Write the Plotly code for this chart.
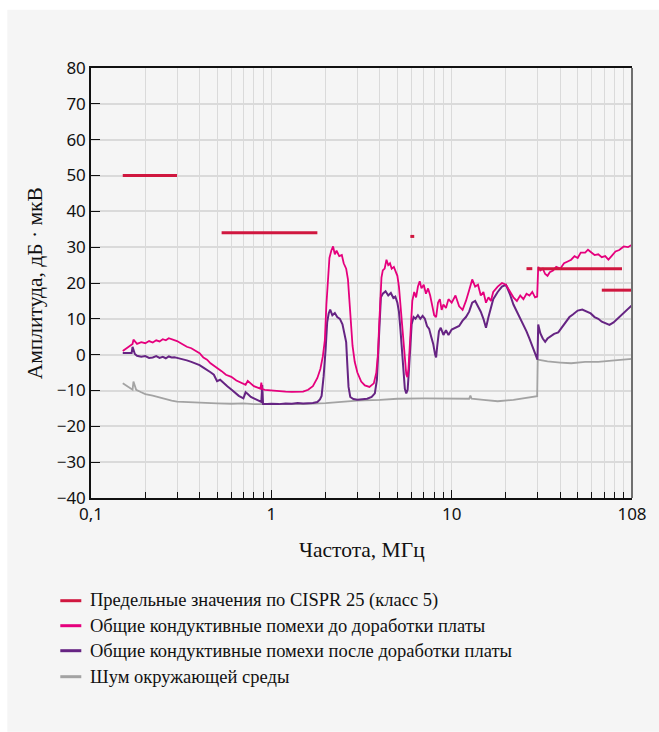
import plotly.graph_objects as go

# ---------------- data (MHz, dBµV) ----------------
limit_freq = [0.15, 0.30, None, 0.53, 1.8, None, 5.9, 6.2, None, 26, 28, None, 30, 88, None, 68, 100]
limit_amp = [50, 50, None, 34, 34, None, 33, 33, None, 24, 24, None, 24, 24, None, 18, 18]

freq_before = [0.15, 0.17, 0.172, 0.18, 0.19, 0.20, 0.21, 0.22, 0.23, 0.24, 0.25, 0.26, 0.27, 0.28, 0.29, 0.30,
               0.32, 0.34, 0.36, 0.38, 0.40, 0.42, 0.44, 0.46, 0.48, 0.50, 0.53, 0.56, 0.60, 0.64, 0.68, 0.72, 0.74, 0.77, 0.80, 0.84, 0.87, 0.88, 0.89, 0.92, 0.96,
               1.0, 1.1, 1.2, 1.3, 1.4, 1.5, 1.6, 1.7, 1.8, 1.87, 1.93, 1.98, 2.02, 2.06, 2.10, 2.15, 2.20, 2.25, 2.30, 2.38, 2.46, 2.52, 2.60, 2.66, 2.71, 2.76, 2.82, 2.90,
               3.0, 3.15, 3.3, 3.5, 3.7, 3.82, 3.9, 3.96, 4.02, 4.08, 4.15, 4.25, 4.35, 4.45, 4.55, 4.65, 4.78, 4.9,
               5.0, 5.1, 5.2, 5.3, 5.4, 5.5, 5.6, 5.68, 5.76, 5.85, 5.95, 6.05, 6.2, 6.35, 6.5, 6.65, 6.8, 7.0, 7.2, 7.4, 7.6, 7.8, 8.0, 8.2, 8.4, 8.6, 8.8, 9.0, 9.3, 9.6,
               10, 10.5, 11, 11.5, 12, 12.5, 13, 13.5, 14, 14.5, 15, 15.5, 16, 16.5, 17, 18, 19, 20, 21, 22, 23, 24, 25, 26, 27, 28, 29, 29.8, 30.2,
               31, 32, 33, 34, 35, 36.5, 38, 40, 42, 44, 46, 48, 50, 52, 55, 57, 60, 62, 65, 68, 71, 74, 77, 81, 85, 90, 95, 100]
amp_before = [1.0, 3.0, 4.2, 3.0, 3.5, 3.2, 3.8, 3.4, 4.0, 3.7, 4.3, 4.0, 4.6, 4.3, 4.0, 3.8,
              3.0, 2.2, 1.8, 1.0, 0.4, -0.8, -1.4, -2.4, -3.0, -3.8, -4.6, -5.6, -6.2, -7.2, -7.8, -8.4, -7.3, -8.0, -8.8, -9.2, -9.5, -7.8, -9.6, -9.8, -9.9,
              -10.0, -10.2, -10.3, -10.4, -10.4, -10.3, -9.8, -8.8, -6.5, -4.0, -0.5, 4.0, 14.0, 22.0, 27.0, 29.0, 30.2, 28.0, 29.0, 27.5, 27.8, 25.5, 24.0, 21.0, 15.0, 8.0, 2.5, -2.0,
              -5.0, -7.5, -8.6, -9.0, -8.0, -5.0, 0.0, 8.0, 16.0, 21.5, 23.5, 24.0, 26.5, 25.0, 25.5, 24.0, 24.5, 23.0,
              22.0, 19.0, 14.0, 8.0, 2.0, -2.5, -5.5, -6.3, -4.0, 2.0, 10.0, 15.0, 17.5, 16.0, 19.0, 20.5, 18.5, 19.5, 17.0, 18.5, 16.5, 14.0, 11.0, 10.5, 14.5, 15.5, 12.5, 14.0, 13.0, 15.5,
              14.5, 16.5, 13.5, 12.5, 15.0, 18.0, 21.0, 19.0, 19.5, 16.5, 17.5, 14.5, 16.0, 15.0, 17.5, 19.0, 20.0, 19.5, 17.5, 16.0, 15.0, 16.5, 15.5, 17.0, 16.5, 17.5, 16.0, 16.2, 24.5,
              23.5, 24.0, 22.5, 22.0, 23.0, 23.5, 24.5, 24.0, 25.5, 26.0, 26.5, 27.5, 27.0, 28.5, 28.5, 29.3, 28.5, 27.8, 28.0, 27.2, 27.5, 26.5, 27.5, 28.8, 29.2, 30.2, 30.0, 30.7]

freq_after = [0.15, 0.168, 0.17, 0.175, 0.18, 0.19, 0.20, 0.21, 0.22, 0.23, 0.24, 0.25, 0.26, 0.27, 0.28, 0.29, 0.30,
              0.32, 0.34, 0.36, 0.38, 0.40, 0.42, 0.44, 0.46, 0.48, 0.50, 0.52, 0.54, 0.57, 0.60, 0.63, 0.66, 0.70, 0.72, 0.74, 0.77, 0.80, 0.84, 0.88, 0.89, 0.90, 0.95,
              1.0, 1.1, 1.2, 1.3, 1.4, 1.5, 1.6, 1.7, 1.8, 1.86, 1.9, 1.95, 2.0, 2.04, 2.08, 2.12, 2.18, 2.25, 2.32, 2.40, 2.48, 2.55, 2.60, 2.64, 2.68, 2.74, 2.85,
              3.0, 3.2, 3.4, 3.6, 3.75, 3.85, 3.92, 3.98, 4.05, 4.15, 4.3, 4.45, 4.6, 4.75, 4.87,
              5.0, 5.1, 5.2, 5.3, 5.4, 5.5, 5.6, 5.7, 5.8, 5.9, 6.0, 6.15, 6.3, 6.5, 6.7, 6.9, 7.1, 7.3, 7.5, 7.7, 7.9, 8.1, 8.2, 8.3, 8.5, 8.7, 9.0, 9.3, 9.6,
              10, 10.5, 11, 11.5, 12, 12.5, 13, 13.5, 14, 14.5, 15, 15.5, 16, 16.5, 17, 18, 19, 20, 21, 22, 23, 24, 25, 26, 27, 28, 29, 29.9, 30.2,
              31, 32, 33, 34, 35.5, 37, 39, 41, 43, 45, 47, 50, 53, 56, 59, 62, 65, 68, 71, 75, 79, 83, 87, 91, 96, 100]
amp_after = [0.5, 0.5, 2.2, 0.2, -0.3, -0.6, -0.4, -0.9, -0.8, -0.4, -0.9, -0.6, -1.0, -0.5, -0.8, -0.7, -0.9,
             -1.2, -1.6, -2.0, -2.4, -2.9, -3.6, -4.2, -4.9, -5.6, -7.4, -7.0, -7.8, -8.8, -9.7, -10.6, -11.5, -12.2, -10.5, -11.0, -11.8, -12.2, -12.8, -13.2, -8.5, -13.8, -13.8,
             -13.7, -13.8, -13.6, -13.7, -13.5, -13.6, -13.6, -13.5, -13.2, -12.5, -11.5, -6.0, 1.5, 9.0, 11.5, 12.6, 11.0, 11.6, 10.5, 10.0, 8.5, 6.0, 3.5, -3.0, -9.0, -11.8, -12.4,
             -12.6, -12.5, -12.3, -11.8, -10.8, -7.0, 3.0, 10.0, 16.0, 17.0, 17.7, 16.5, 17.2, 15.8, 16.2,
             14.5, 12.0, 7.0, 1.0, -6.0, -9.5, -10.8, -9.8, -4.0, 4.0, 8.5, 10.5, 10.0, 11.0, 10.0, 10.8, 10.0, 8.0, 7.2, 5.0, 3.0, 0.0, -0.8, 2.0, 6.5, 7.5, 5.5, 6.8, 5.5,
             7.0, 7.5, 8.0, 9.5, 10.5, 12.0, 14.5, 15.0, 13.5, 12.0, 10.0, 7.5, 10.5, 13.5, 15.5, 17.5, 19.0, 19.5, 17.0, 14.0, 12.0, 10.5, 8.5, 6.5, 4.5, 2.5, 0.5, -1.4, 8.4,
             6.0, 4.5, 3.6, 4.5, 5.2, 5.8, 6.2, 7.8, 9.0, 10.5, 11.2, 12.3, 12.6, 12.0, 11.5, 10.5, 10.0, 9.2, 8.8, 8.3, 9.0, 10.0, 11.0, 11.8, 12.8, 13.8]

freq_noise = [0.15, 0.16, 0.17, 0.172, 0.178, 0.19, 0.20, 0.22, 0.25, 0.28, 0.30, 0.35, 0.40, 0.50, 0.60, 0.70, 0.80, 0.90,
              1.0, 1.2, 1.5, 2.0, 2.5, 3.0, 4.0, 5.0, 7.0, 10, 12.5, 12.7, 12.9, 15, 18, 22, 26, 29.8, 30.0, 34, 40, 46, 55, 65, 80, 100]
amp_noise = [-8.0, -9.0, -9.8, -7.5, -9.8, -10.5, -11.0, -11.4, -12.2, -12.8, -13.1, -13.3, -13.5, -13.6, -13.7, -13.6, -13.8, -13.8,
             -13.9, -13.8, -13.8, -13.5, -13.0, -12.8, -12.6, -12.3, -12.2, -12.2, -12.3, -11.4, -12.3, -12.6, -13.0, -12.6, -12.0, -11.6, -1.4, -1.9, -2.2, -2.4, -2.0, -2.0, -1.6, -1.2]

assert len(freq_before) == len(amp_before)
assert len(freq_after) == len(amp_after)
assert len(freq_noise) == len(amp_noise)

x_tickvals = [0.1, 1, 10, 100]
x_ticktext = ["0,1", "1", "10", "108"]
x_minor = [m * d for d in (0.1, 1, 10) for m in range(2, 10)]

names = ["Предельные значения по CISPR 25 (класс 5)",
         "Общие кондуктивные помехи до доработки платы",
         "Общие кондуктивные помехи после доработки платы",
         "Шум окружающей среды"]
x_title = "Частота, МГц"
y_title = "Амплитуда, дБ · мкВ"

C_LIMIT = "#d0173f"
C_BEFORE = "#e5007d"
C_AFTER = "#662483"
C_NOISE = "#a3a3a3"
colors = [C_LIMIT, C_BEFORE, C_AFTER, C_NOISE]
PANEL = "#f5f5f5"
GRID = "#dadada"
SERIF = "Liberation Serif"
SANS = "Noto Sans"
INK = "#111111"

fig = go.Figure()
fig.add_trace(go.Scatter(x=freq_noise, y=amp_noise, mode="lines", name=names[3],
                         line=dict(color=C_NOISE, width=1.8)))
fig.add_trace(go.Scatter(x=freq_after, y=amp_after, mode="lines", name=names[2],
                         line=dict(color=C_AFTER, width=2)))
fig.add_trace(go.Scatter(x=freq_before, y=amp_before, mode="lines", name=names[1],
                         line=dict(color=C_BEFORE, width=1.8)))
fig.add_trace(go.Scatter(x=limit_freq, y=limit_amp, mode="lines", name=names[0],
                         line=dict(color=C_LIMIT, width=3), connectgaps=False))

# plot area in pixels: x 90.7..631.7, y 68.3..498.3
L, R, T, B = 90.7, 631.7, 68.3, 498.3
W, H = R - L, B - T
def px(x):
    return (x - L) / W
def py(y):
    return (B - y) / H

fig.add_shape(type="rect", xref="paper", yref="paper", layer="below",
              x0=px(7), x1=px(659), y0=py(732), y1=py(10),
              fillcolor=PANEL, line=dict(width=0))
# right frame edge (dark grey in the original)
fig.add_shape(type="line", xref="paper", yref="paper", x0=1, x1=1, y0=0, y1=1,
              line=dict(color="#707070", width=2))

# legend drawn below the plot (key lines + real text)
legend_rows = [601, 626, 651, 677]
annotations = []
for name, col, yy in zip(names, colors, legend_rows):
    fig.add_shape(type="line", xref="paper", yref="paper", x0=px(60), x1=px(81), y0=py(yy), y1=py(yy),
                  line=dict(color=col, width=3))
    annotations.append(dict(xref="paper", yref="paper", x=px(88), y=py(yy), xanchor="left", yanchor="middle",
                            text=name, showarrow=False, font=dict(family=SERIF, size=18.5, color=INK)))
annotations.append(dict(xref="paper", yref="paper", x=px(35), y=0.5, xanchor="center", yanchor="middle",
                        textangle=-90, text=y_title, showarrow=False,
                        font=dict(family=SERIF, size=21.5, color=INK)))
annotations.append(dict(xref="paper", yref="paper", x=0.5, y=py(550), xanchor="center", yanchor="middle",
                        text=x_title, showarrow=False,
                        font=dict(family=SERIF, size=21.5, color=INK)))

fig.update_layout(
    width=659, height=732,
    margin=dict(l=91, r=27, t=68, b=234),
    paper_bgcolor="white", plot_bgcolor="rgba(0,0,0,0)",
    showlegend=False,
    annotations=annotations,
    xaxis=dict(type="log", range=[-1, 2], tickmode="array", tickvals=x_tickvals, ticktext=x_ticktext,
               ticks="inside", ticklen=8, tickwidth=1.3, tickcolor=INK,
               showline=True, linecolor=INK, linewidth=1.5, mirror=True,
               showgrid=True, gridcolor=GRID, gridwidth=1.3, zeroline=False,
               tickfont=dict(family=SANS, size=17, color=INK),
               minor=dict(tickmode="array", tickvals=x_minor, ticks="inside", ticklen=6, tickwidth=1.2,
                          tickcolor=INK, showgrid=True, gridcolor=GRID, gridwidth=1.3)),
    yaxis=dict(range=[-40, 80], tickmode="linear", tick0=-40, dtick=10,
               ticks="inside", ticklen=9, tickwidth=1.3, tickcolor=INK,
               showline=True, linecolor=INK, linewidth=1.5, mirror=False,
               showgrid=True, gridcolor=GRID, gridwidth=1.5, zeroline=False,
               tickfont=dict(family=SANS, size=17, color=INK)),
)

fig.write_html("out.html")
